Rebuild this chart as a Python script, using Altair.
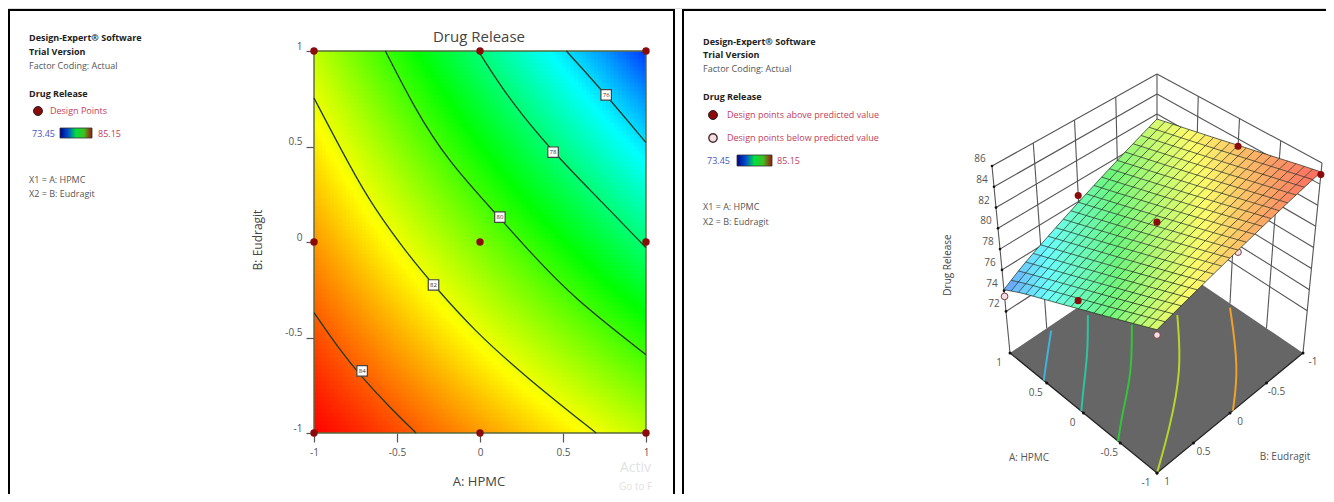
import altair as alt
import pandas as pd

alt.data_transformers.disable_max_rows()

FONT = "Open Sans"

# ---- values -----------------------------------------------------------
GRID_STEPS = [-1, -0.75, -0.5, -0.25, 0, 0.25, 0.5, 0.75, 1]
# response read at each (A, B); rows are B = -1 ... 1, columns A = -1 ... 1
RESPONSE = [
    [85.15, 84.75, 84.30, 83.85, 83.39, 82.92, 82.45, 81.98, 81.50],
    [84.75, 84.25, 83.75, 83.24, 82.72, 82.20, 81.68, 81.15, 80.62],
    [84.30, 83.75, 83.19, 82.62, 82.05, 81.48, 80.90, 80.32, 79.72],
    [83.85, 83.24, 82.62, 82.00, 81.38, 80.75, 80.12, 79.47, 78.83],
    [83.39, 82.72, 82.05, 81.38, 80.70, 80.02, 79.32, 78.63, 77.93],
    [82.92, 82.20, 81.48, 80.75, 80.02, 79.27, 78.53, 77.78, 77.02],
    [82.45, 81.68, 80.90, 80.12, 79.32, 78.53, 77.73, 76.92, 76.11],
    [81.98, 81.15, 80.32, 79.47, 78.63, 77.78, 76.92, 76.06, 75.19],
    [81.50, 80.62, 79.72, 78.83, 77.93, 77.02, 76.11, 75.19, 74.10],
]
CONTOUR_84 = [(-1, -0.37), (-0.85, -0.56), (-0.71, -0.71), (-0.55, -0.86), (-0.385, -1)]
CONTOUR_82 = [(-1, 0.754), (-0.78, 0.39), (-0.64, 0.18), (-0.43, -0.07), (-0.28, -0.225),
              (-0.04, -0.46), (0.28, -0.71), (0.70, -1)]
CONTOUR_80 = [(-0.57, 1), (-0.4, 0.71), (-0.2, 0.43), (0.12, 0.125), (0.32, -0.07),
              (0.56, -0.29), (1, -0.59)]
CONTOUR_78 = [(-0.01, 1), (0.18, 0.74), (0.44, 0.47), (0.70, 0.24), (1, -0.03)]
CONTOUR_76 = [(0.52, 1), (0.75, 0.78), (1, 0.52)]
CONTOURS = {84: CONTOUR_84, 82: CONTOUR_82, 80: CONTOUR_80, 78: CONTOUR_78, 76: CONTOUR_76}
CONTOUR_TAGS = [(-0.71, -0.675, "84"), (-0.28, -0.225, "82"), (0.12, 0.13, "80"),
                (0.44, 0.47, "78"), (0.76, 0.77, "76")]
DESIGN_A = [-1, 0, 1, -1, 0, 1, -1, 0, 1]
DESIGN_B = [1, 1, 1, 0, 0, 0, -1, -1, -1]

TICKS = [-1, -0.5, 0, 0.5, 1]
Z_TICKS = [72, 74, 76, 78, 80, 82, 84, 86]

POINTS_ABOVE = [(-1, -1, 84.9), (0, -1, 83.3), (1, 0, 78.6), (0, 0, 81.1), (0, 1, 78.7)]
POINTS_BELOW = [(1, 1, 73.45), (-1, 1, 81.0), (-1, 0, 83.2)]

FLOOR_LINES = {
    "#3fb4d8": [(0.54, 1), (0.72, 0.78), (0.95, 0.49)],
    "#2ec4a0": [(0.03, 1), (0.22, 0.78), (0.51, 0.43), (0.86, 0.08)],
    "#33c43c": [(-0.47, 1), (-0.25, 0.72), (0.03, 0.31), (0.48, -0.14)],
    "#b6d628": [(-1, 1), (-0.72, 0.55), (-0.28, -0.06), (0.26, -0.54)],
    "#f0a02c": [(-1, -0.04), (-0.66, -0.46), (-0.04, -0.96)],
}

# where the 3-D box stands, read from its corners
Z_FLOOR, Z_TOP = 68, 86
FLOOR = {"front": (1157, 473), "left": (1010, 353), "right": (1303, 353), "back": (1157, 254)}
ROOF = {"front": (1157, 282), "left": (992, 166), "right": (1322, 163), "back": (1157, 74)}

HEAT_DOMAIN = [73.45, 76.4, 79.3, 82.2, 85.15]
HEAT_COLORS = ["#0000ff", "#00ffff", "#00ff00", "#ffff00", "#ff0000"]
SURFACE_COLORS = ["#6a7cff", "#6affff", "#6cf57c", "#fdfd6a", "#ff6a62"]
BAR_STOPS = ["#00008c", "#0050d0", "#00e040", "#40c020", "#a01010"]

DARK_RED = "#8b0a0a"
PINK = "#f6dfe2"
TEXT_GREY = "#555555"
LEG_RED = "#c2405c"

# drawing area: the page's margin is 8 px; everything below is positioned from it
CW, CH = 1318, 486
ox, oy = 8, 8


def response(a, b):
    """Read the table at (a, b); used to paint the continuous fill between read values."""
    fa = min((a + 1) * 4, 7.9999)
    fb = min((b + 1) * 4, 7.9999)
    i, j = int(fa), int(fb)
    ta, tb = fa - i, fb - j
    return (RESPONSE[j][i] * (1 - ta) * (1 - tb) + RESPONSE[j][i + 1] * ta * (1 - tb)
            + RESPONSE[j + 1][i] * (1 - ta) * tb + RESPONSE[j + 1][i + 1] * ta * tb)


def project(a, b, z=Z_FLOOR):
    u, v = (a + 1) / 2, (1 - b) / 2
    w = (z - Z_FLOOR) / (Z_TOP - Z_FLOOR)
    out = []
    for k in (0, 1):
        lo = (FLOOR["front"][k] * (1 - u) * (1 - v) + FLOOR["left"][k] * u * (1 - v)
              + FLOOR["right"][k] * (1 - u) * v + FLOOR["back"][k] * u * v)
        hi = (ROOF["front"][k] * (1 - u) * (1 - v) + ROOF["left"][k] * u * (1 - v)
              + ROOF["right"][k] * (1 - u) * v + ROOF["back"][k] * u * v)
        out.append(lo * (1 - w) + hi * w)
    return out


def quad_rows(cell, pts, z):
    """Upper and lower outline of a convex quad, so mark_area can fill it."""
    rows = []
    for x in sorted({p[0] for p in pts}):
        ys = []
        for n in range(4):
            p, q = pts[n], pts[(n + 1) % 4]
            if min(p[0], q[0]) <= x <= max(p[0], q[0]):
                if p[0] == q[0]:
                    ys += [p[1], q[1]]
                else:
                    ys.append(p[1] + (q[1] - p[1]) * (x - p[0]) / (q[0] - p[0]))
        rows.append({"cell": cell, "x": x, "y": min(ys), "y2": max(ys), "z": z})
    return rows


def text_layer(rows, **kw):
    layers = []
    for label, x, y, size, weight, color in rows:
        layers.append(
            alt.Chart(pd.DataFrame({"t": [label]}))
            .mark_text(align=kw.get("align", "left"), baseline="middle", fontSize=size,
                       fontWeight=weight, color=color, font=FONT)
            .encode(x=alt.value(x - ox), y=alt.value(y - oy), text="t:N")
        )
    return layers


def frame_line(x, y, x2, y2):
    return (alt.Chart(pd.DataFrame({"k": [0]})).mark_rule(color="black", strokeWidth=2)
            .encode(x=alt.value(x - ox), y=alt.value(y - oy), x2=alt.value(x2 - ox), y2=alt.value(y2 - oy)))


def color_bar(x, y, x2, y2):
    return (alt.Chart(pd.DataFrame({"k": [0]}))
            .mark_rect(stroke="#333333", strokeWidth=0.8,
                       color=alt.Gradient(gradient="linear", x1=0, x2=1, y1=0, y2=0,
                                          stops=[alt.GradientStop(offset=i / 4, color=c)
                                                 for i, c in enumerate(BAR_STOPS)]))
            .encode(x=alt.value(x - ox), x2=alt.value(x2 - ox), y=alt.value(y - oy), y2=alt.value(y2 - oy)))


# ==== left panel =========================================================
X_SCALE = alt.Scale(domain=[-1, 1], range=[314 - ox, 646 - ox], nice=False, zero=False)
Y_SCALE = alt.Scale(domain=[-1, 1], range=[433 - oy, 51 - oy], nice=False, zero=False)
HEAT = alt.Scale(domain=HEAT_DOMAIN, range=HEAT_COLORS, interpolate="rgb")

cells = []
NX, NY = 83, 96
for i in range(NX):
    for j in range(NY):
        a0, a1 = -1 + 2 * i / NX, -1 + 2 * (i + 1) / NX
        b0, b1 = -1 + 2 * j / NY, -1 + 2 * (j + 1) / NY
        cells.append({"a": round(a0, 4), "a2": round(min(a1 + 0.004, 1), 4),
                      "b": round(b0, 4), "b2": round(min(b1 + 0.004, 1), 4),
                      "z": round(response((a0 + a1) / 2, (b0 + b1) / 2), 2)})
heat = alt.Chart(pd.DataFrame(cells)).mark_rect(strokeWidth=0).encode(
    x=alt.X("a:Q", scale=X_SCALE, title=None,
            axis=alt.Axis(orient="bottom", offset=-(CH - (433 - oy)), values=TICKS, grid=False,
                          domain=False, tickSize=9, tickColor="#555555", tickWidth=1.2,
                          labelFont=FONT, labelFontSize=10, labelColor=TEXT_GREY,
                          labelPadding=5, labelExpr="'' + datum.value", labelFlush=False)),
    x2="a2:Q",
    y=alt.Y("b:Q", scale=Y_SCALE, title=None,
            axis=alt.Axis(orient="left", offset=-(314 - ox), values=TICKS, grid=False,
                          domain=False, tickSize=8, tickColor="#555555", tickWidth=1.2,
                          labelFont=FONT, labelFontSize=10, labelColor=TEXT_GREY,
                          labelPadding=4, labelExpr="'' + datum.value", labelFlush=False,
                          labelBaseline="bottom")),
    y2="b2:Q",
    color=alt.Color("z:Q", scale=HEAT, legend=None),
)
box = (alt.Chart(pd.DataFrame({"a": [-1], "a2": [1], "b": [-1], "b2": [1]}))
       .mark_rect(fillOpacity=0, stroke="#5a6a3a", strokeWidth=1.4)
       .encode(x=alt.X("a:Q", scale=X_SCALE), x2="a2:Q",
               y=alt.Y("b:Q", scale=Y_SCALE), y2="b2:Q"))
contour_rows = [{"level": lv, "n": n, "a": a, "b": b}
                for lv, pts in CONTOURS.items() for n, (a, b) in enumerate(pts)]
contours = (alt.Chart(pd.DataFrame(contour_rows))
            .mark_line(color="#1e3a24", strokeWidth=1.3, interpolate="basis")
            .encode(x=alt.X("a:Q", scale=X_SCALE), y=alt.Y("b:Q", scale=Y_SCALE),
                    detail="level:N", order="n:Q"))
tag_df = pd.DataFrame(CONTOUR_TAGS, columns=["a", "b", "t"])
tag_box = alt.Chart(tag_df).mark_point(shape="square", filled=True, size=110, fill="white",
                                       stroke="#444444", strokeWidth=1.2, opacity=1).encode(
    x=alt.X("a:Q", scale=X_SCALE), y=alt.Y("b:Q", scale=Y_SCALE))
tag_txt = alt.Chart(tag_df).mark_text(fontSize=6, font=FONT, color="#333333").encode(
    x=alt.X("a:Q", scale=X_SCALE), y=alt.Y("b:Q", scale=Y_SCALE), text="t:N")
design = (alt.Chart(pd.DataFrame({"a": DESIGN_A, "b": DESIGN_B}))
          .mark_circle(size=55, color=DARK_RED, opacity=1)
          .encode(x=alt.X("a:Q", scale=X_SCALE), y=alt.Y("b:Q", scale=Y_SCALE)))
leg_dot = (alt.Chart(pd.DataFrame({"k": [0]}))
           .mark_circle(size=80, color=DARK_RED, opacity=1, stroke="#222222", strokeWidth=1)
           .encode(x=alt.value(38 - ox), y=alt.value(111 - oy)))

left_txt = text_layer([
    ("Design-Expert\u00ae Software", 29, 38, 9, "bold", "#222222"),
    ("Trial Version", 29, 52, 9, "bold", "#222222"),
    ("Factor Coding: Actual", 29, 66, 9, "normal", TEXT_GREY),
    ("Drug Release", 29, 94, 9, "bold", "#222222"),
    ("Design Points", 50, 111, 9, "normal", LEG_RED),
    ("73.45", 32, 134, 9, "normal", "#4a55c8"),
    ("85.15", 98, 134, 9, "normal", LEG_RED),
    ("X1 = A: HPMC", 29, 180, 9, "normal", TEXT_GREY),
    ("X2 = B: Eudragit", 29, 194, 9, "normal", TEXT_GREY),
    ("Activ", 620, 468, 14, "normal", "#e2e2e2"),
    ("Go to F", 619, 487, 10, "normal", "#e2e2e2"),
]) + text_layer([
    ("Drug Release", 479, 37, 15, "normal", "#444444"),
    ("A: HPMC", 479, 482, 13, "normal", "#444444"),
], align="center")
y_title = (alt.Chart(pd.DataFrame({"t": ["B: Eudragit"]}))
           .mark_text(angle=270, fontSize=12, font=FONT, color="#444444", align="center",
                      baseline="middle")
           .encode(x=alt.value(258 - ox), y=alt.value(240 - oy), text="t:N"))

left = alt.layer(
    heat, box, contours, tag_box, tag_txt, design, leg_dot,
    color_bar(60, 128, 92, 138),
    *left_txt, y_title,
    frame_line(9, 10, 674, 10), frame_line(9, 9, 9, ox + CH + oy), frame_line(674, 9, 674, ox + CH + oy),
)

# ==== right panel ========================================================
PX = alt.Scale(domain=[ox, ox + CW], range=[0, CW], nice=False, zero=False)
PY = alt.Scale(domain=[oy + CH, oy], range=[CH, 0], nice=False, zero=False)
SURF = alt.Scale(domain=HEAT_DOMAIN, range=SURFACE_COLORS, interpolate="rgb")


def xy():
    return dict(x=alt.X("x:Q", scale=PX, axis=None), y=alt.Y("y:Q", scale=PY, axis=None))


floor_pts = [project(-1, 1), project(1, 1), project(1, -1), project(-1, -1)]
floor = (alt.Chart(pd.DataFrame(quad_rows(0, floor_pts, 0)))
         .mark_area(color="#666666", orient="vertical")
         .encode(x=alt.X("x:Q", scale=PX, axis=None), y=alt.Y("y:Q", scale=PY, axis=None), y2="y2:Q"))

wall_rows, lid = [], 0
for z in Z_TICKS:
    for pts in ([(1, 1), (1, -1)], [(1, -1), (-1, -1)]):
        lid += 1
        for n, (a, b) in enumerate(pts):
            x, y = project(a, b, z)
            wall_rows.append({"id": lid, "n": n, "x": x, "y": y})
for a, b in [(1, 1), (1, 0.5), (1, 0), (1, -0.5), (1, -1), (0.5, -1), (0, -1), (-0.5, -1), (-1, -1)]:
    lid += 1
    for n, z in enumerate([Z_FLOOR, Z_TOP]):
        x, y = project(a, b, z)
        wall_rows.append({"id": lid, "n": n, "x": x, "y": y})
walls = (alt.Chart(pd.DataFrame(wall_rows)).mark_line(color="#555555", strokeWidth=1.1)
         .encode(**xy(), detail="id:N", order="n:Q"))

edge_rows = []
for n, p in enumerate([project(1, 1), project(-1, 1), project(-1, -1)]):
    edge_rows.append({"n": n, "x": p[0], "y": p[1]})
edges = alt.Chart(pd.DataFrame(edge_rows)).mark_line(color="#222222", strokeWidth=1.2).encode(
    **xy(), order="n:Q")

floor_lines = []
for colr, pts in FLOOR_LINES.items():
    rows = []
    for n, (a, b) in enumerate(pts):
        x, y = project(a, b)
        rows.append({"n": n, "x": x, "y": y})
    floor_lines.append(alt.Chart(pd.DataFrame(rows))
                       .mark_line(strokeWidth=2, color=colr, interpolate="basis")
                       .encode(**xy(), order="n:Q"))

N = 20
nodes = [-1 + 2 * i / N for i in range(N + 1)]
surf_rows, line_rows, cell = [], [], 0
for i in range(N):
    for j in range(N):
        a0, a1, b0, b1 = nodes[i], nodes[i + 1], nodes[j], nodes[j + 1]
        pts = [project(a, b, response(a, b)) for a, b in [(a0, b0), (a1, b0), (a1, b1), (a0, b1)]]
        cell += 1
        surf_rows += quad_rows(cell, pts, round(response((a0 + a1) / 2, (b0 + b1) / 2), 2))
lid = 0
for c in nodes:
    lid += 1
    for n, t in enumerate(nodes):
        x, y = project(c, t, response(c, t))
        line_rows.append({"id": lid, "n": n, "x": x, "y": y})
    lid += 1
    for n, t in enumerate(nodes):
        x, y = project(t, c, response(t, c))
        line_rows.append({"id": lid, "n": n, "x": x, "y": y})
surface = (alt.Chart(pd.DataFrame(surf_rows)).mark_area(orient="vertical", interpolate="linear")
           .encode(x=alt.X("x:Q", scale=PX, axis=None), y=alt.Y("y:Q", scale=PY, axis=None), y2="y2:Q",
                   color=alt.Color("z:Q", scale=SURF, legend=None), detail="cell:N"))
mesh = (alt.Chart(pd.DataFrame(line_rows)).mark_line(color="#1c2a1c", strokeWidth=1, opacity=0.7)
        .encode(**xy(), detail="id:N", order="n:Q"))


def pts_df(items):
    rows = []
    for a, b, z in items:
        x, y = project(a, b, z)
        rows.append({"x": x, "y": y})
    return pd.DataFrame(rows)


above = alt.Chart(pts_df(POINTS_ABOVE)).mark_circle(size=50, color=DARK_RED, opacity=1).encode(**xy())
below = alt.Chart(pts_df(POINTS_BELOW)).mark_point(size=45, filled=True, fill=PINK, stroke="#7a3a44",
                                                   strokeWidth=1, opacity=1).encode(**xy())

zt = pd.DataFrame([{"x": project(1, 1, z)[0], "y": project(1, 1, z)[1], "t": str(z)} for z in Z_TICKS])
z_labels = alt.Chart(zt).mark_text(fontSize=10, font=FONT, color=TEXT_GREY, dx=-12, dy=-7).encode(
    **xy(), text="t:N")
z_dots = alt.Chart(zt).mark_circle(size=7, color="#111111", opacity=1).encode(**xy())


def fmt(v):
    return f"{v:g}"


a_df = pd.DataFrame([{"x": project(v, 1)[0], "y": project(v, 1)[1], "t": fmt(v)} for v in TICKS])
b_df = pd.DataFrame([{"x": project(-1, v)[0], "y": project(-1, v)[1], "t": fmt(v)} for v in TICKS])
a_lab = alt.Chart(a_df).mark_text(fontSize=10, font=FONT, color=TEXT_GREY, dx=-11, dy=10).encode(**xy(), text="t:N")
b_lab = alt.Chart(b_df).mark_text(fontSize=10, font=FONT, color=TEXT_GREY, dx=10, dy=9).encode(**xy(), text="t:N")
a_dot = alt.Chart(a_df).mark_circle(size=9, color="#111111", opacity=1).encode(**xy())
b_dot = alt.Chart(b_df).mark_circle(size=9, color="#111111", opacity=1).encode(**xy())

leg_a = (alt.Chart(pd.DataFrame({"k": [0]}))
         .mark_circle(size=80, color=DARK_RED, opacity=1, stroke="#222222", strokeWidth=1)
         .encode(x=alt.value(713 - ox), y=alt.value(115 - oy)))
leg_b = (alt.Chart(pd.DataFrame({"k": [0]}))
         .mark_circle(size=70, color=PINK, opacity=1, stroke="#4a3034", strokeWidth=1.4)
         .encode(x=alt.value(713 - ox), y=alt.value(138 - oy)))

right_txt = text_layer([
    ("Design-Expert\u00ae Software", 703, 42, 9, "bold", "#222222"),
    ("Trial Version", 703, 55, 9, "bold", "#222222"),
    ("Factor Coding: Actual", 703, 69, 9, "normal", TEXT_GREY),
    ("Drug Release", 703, 97, 9, "bold", "#222222"),
    ("Design points above predicted value", 727, 115, 9, "normal", LEG_RED),
    ("Design points below predicted value", 727, 138, 9, "normal", LEG_RED),
    ("73.45", 707, 161, 9, "normal", "#4a55c8"),
    ("85.15", 777, 161, 9, "normal", LEG_RED),
    ("X1 = A: HPMC", 703, 207, 9, "normal", TEXT_GREY),
    ("X2 = B: Eudragit", 703, 222, 9, "normal", TEXT_GREY),
]) + text_layer([
    ("A: HPMC", 1029, 458, 10, "normal", TEXT_GREY),
    ("B: Eudragit", 1285, 457, 10, "normal", TEXT_GREY),
], align="center")
z_title = (alt.Chart(pd.DataFrame({"t": ["Drug Release"]}))
           .mark_text(angle=270, fontSize=10, font=FONT, color="#444444", align="center",
                      baseline="middle")
           .encode(x=alt.value(948 - ox), y=alt.value(265 - oy), text="t:N"))

right = alt.layer(
    floor, walls, edges, *floor_lines, a_dot, b_dot, z_dots, below, surface, mesh, above,
    z_labels, a_lab, b_lab, z_title, leg_a, leg_b,
    color_bar(737, 155, 772, 166),
    *right_txt,
    frame_line(683, 10, ox + CW, 10), frame_line(683, 9, 683, oy + CH + oy),
)

chart = (
    alt.layer(left, right)
    .resolve_scale(color="independent", x="independent", y="independent")
    .properties(width=CW, height=CH, padding=0,
                autosize=alt.AutoSizeParams(type="none", contains="padding"))
    .configure_view(stroke=None)
    .configure(background="white")
)
chart.save("out.html", embed_options={"renderer": "svg", "actions": False})
